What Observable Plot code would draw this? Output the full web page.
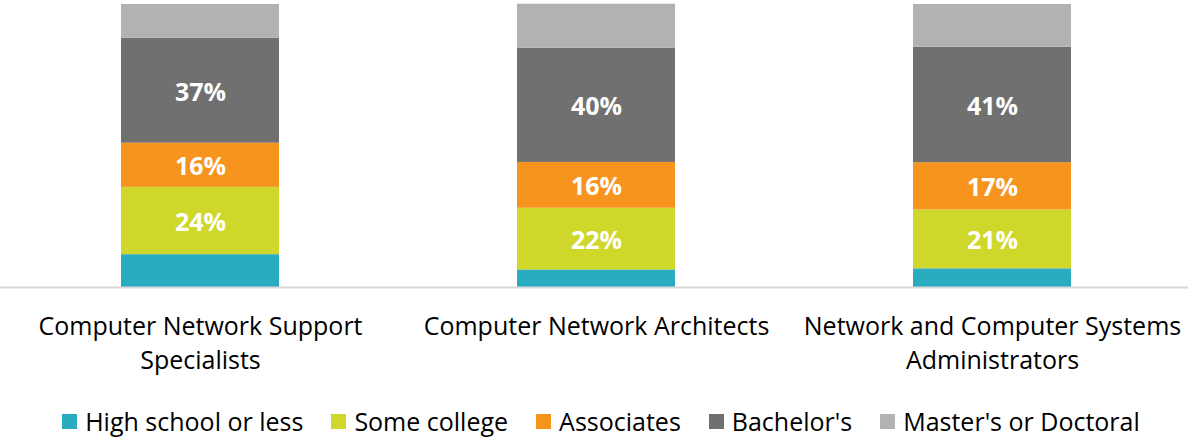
<!DOCTYPE html>
<html>
<head>
<meta charset="utf-8">
<script src="https://cdn.jsdelivr.net/npm/d3@7"></script>
<script src="https://cdn.jsdelivr.net/npm/@observablehq/plot@0.6"></script>
<style>
  html, body { margin: 0; padding: 0; background: #fff; }
  body { width: 1188px; height: 437px; overflow: hidden; font-family: "Open Sans", sans-serif; }
  #legend { display: flex; justify-content: center; align-items: center; height: 42px; margin-top: 5px; font-size: 25px; color: #000; padding-left: 14px; }
  .item { display: flex; align-items: center; margin: 0 14px; }
  .sw { width: 15px; height: 15px; margin-right: 8px; }
</style>
</head>
<body>
<div id="chart"></div>
<div id="legend"></div>
<script>
const categories = [
  "Computer Network Support Specialists",
  "Computer Network Architects",
  "Network and Computer Systems Administrators"
];
const tickLabels = [
  "Computer Network Support\nSpecialists",
  "Computer Network Architects",
  "Network and Computer Systems\nAdministrators"
];
const levels = ["High school or less", "Some college", "Associates", "Bachelor's", "Master's or Doctoral"];
const colors = ["#29abc0", "#cfd72b", "#f7941e", "#6f706f", "#b1b2b1"];
const highSchool = [11.6, 6.2, 6.6];
const someCollege = [23.8, 21.8, 20.8];
const associates = [15.6, 16.2, 16.7];
const bachelors = [37.1, 40.4, 40.8];
const masters = [11.9, 15.5, 15.1];
const labeledLevels = ["Some college", "Associates", "Bachelor's"];

const series = [highSchool, someCollege, associates, bachelors, masters];
const data = [];
categories.forEach((c, i) => {
  levels.forEach((l, j) => data.push({category: c, level: l, value: series[j][i]}));
});

const chart = Plot.plot({
  width: 1188,
  height: 395,
  marginTop: 4,
  marginBottom: 108,
  marginLeft: 0,
  marginRight: 0,
  style: {fontFamily: "'Open Sans', sans-serif", background: "#fff"},
  x: {domain: categories, range: [2, 1190], paddingInner: 0.6, paddingOuter: 0.3, label: null},
  y: {domain: [0, 100], axis: null},
  color: {domain: levels, range: colors},
  marks: [
    Plot.barY(data, {x: "category", y: "value", fill: "level", order: levels}),
    Plot.text(data, Plot.stackY({
      x: "category", y: "value", z: "level", order: levels,
      text: d => labeledLevels.includes(d.level) ? Math.round(d.value) + "%" : "",
      fill: "#fff", fontSize: 25, fontWeight: "bold", dy: 2
    })),
    Plot.ruleY([0], {stroke: "#d9d9d9", strokeWidth: 2}),
    Plot.axisX({
      tickSize: 0, tickPadding: 23, fontSize: 25, lineHeight: 1.36, fill: "#000",
      tickFormat: d => tickLabels[categories.indexOf(d)], label: null
    })
  ]
});
document.getElementById("chart").appendChild(chart);

const legend = document.getElementById("legend");
levels.forEach((l, i) => {
  const item = document.createElement("div");
  item.className = "item";
  item.innerHTML = `<span class="sw" style="background:${colors[i]}"></span><span>${l}</span>`;
  legend.appendChild(item);
});
</script>
</body>
</html>
